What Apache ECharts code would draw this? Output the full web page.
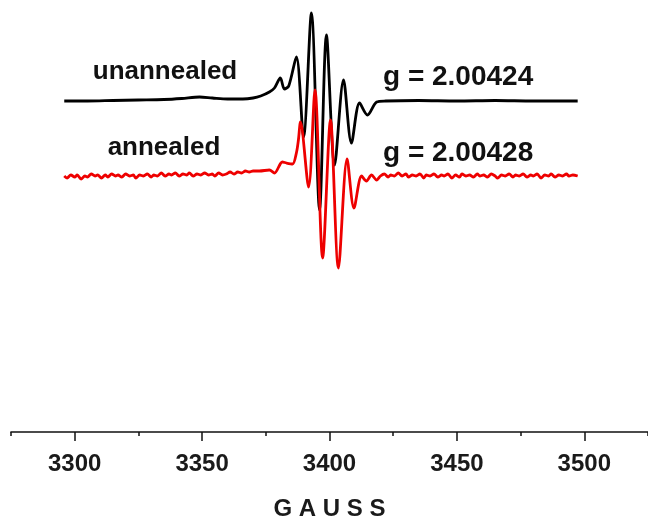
<!DOCTYPE html>
<html>
<head>
<meta charset="utf-8">
<script src="https://cdn.jsdelivr.net/npm/echarts@6/dist/echarts.min.js"></script>
<style>
  html, body { margin: 0; padding: 0; background: #fff; }
  #chart { width: 648px; height: 519px; }
</style>
</head>
<body>
<div id="chart"></div>
<script>
// field axis (gauss)
var fieldMin = 3275;
var fieldMax = 3525;
var majorTicks = [3300, 3350, 3400, 3450, 3500];
var minorTicks = [3275, 3325, 3375, 3425, 3475, 3525];

// derivative signal, [gauss, amplitude]
var unannealed = [
    [3295.9, 0], [3305, 0], [3315, 0.5], [3325, 1], [3335, 1.5], [3342, 2.5],
    [3349, 4], [3354, 3], [3360, 2], [3366, 2], [3370, 3], [3373, 5],
    [3376.4, 9], [3378.4, 13], [3380.7, 23], [3382.3, 12], [3384.0, 15],
    [3387.0, 44], [3389.8, -36], [3392.9, 88], [3396.1, -109], [3398.8, 66],
    [3402.0, -64], [3405.5, 21], [3408.6, -42], [3411.8, -2], [3414.9, -14],
    [3418.5, -1], [3422, 0], [3435, 0.5], [3450, 0], [3465, 0.5], [3480, 0],
    [3497.4, 0]
];

var annealed = [
    [3295.9, 1], [3297, -1], [3298.5, 2], [3300, 0], [3301, 2], [3302.5, -2],
    [3304, 1], [3305, 0], [3306.5, 3], [3308, 1], [3309, 2], [3310.5, -1],
    [3312, 2], [3313, 0], [3314.5, 3], [3316, 1], [3317, 2], [3318.5, 0],
    [3320, 3], [3321.5, 1], [3323, 2], [3324, -1], [3325.5, 2], [3327, 1],
    [3328.5, 3], [3330, 0], [3331, 2], [3332.5, 1], [3334, 4], [3335.5, 1],
    [3337, 3], [3338, 2], [3339.5, 4], [3341, 1], [3342.5, 3], [3344, 2],
    [3345, 4], [3346.5, 1], [3348, 3], [3349.5, 2], [3351, 4], [3352.5, 2],
    [3354, 3], [3355, 1], [3356.5, 4], [3358, 2], [3359.5, 3], [3361, 5],
    [3362.5, 3], [3364, 5], [3365.5, 4], [3367, 6], [3368.5, 5], [3370, 6],
    [3372.5, 6], [3376.4, 7], [3378.4, 4],
    [3381.5, 15], [3383.1, 14], [3385.5, 13], [3387.0, 24], [3387.8, 37],
    [3388.6, 55], [3391.8, -10], [3394.3, 87], [3397.3, -81], [3400.4, 57],
    [3403.5, -91], [3406.9, 18], [3409.6, -31], [3412.6, 1], [3414.5, -4],
    [3416.5, 2], [3418.5, -3], [3420, 1], [3421.5, 3], [3423, 0], [3424, 2],
    [3425.5, 1], [3427, 4], [3428.5, 1], [3430, 3], [3431, 0], [3432.5, 2],
    [3434, 1], [3435.5, 3], [3437, -1], [3438, 2], [3439.5, 1], [3441, 3],
    [3442.5, 0], [3444, 2], [3445, 1], [3446.5, 3], [3448, -1], [3449.5, 2],
    [3451, 0], [3452, 3], [3453.5, 1], [3455, 2], [3456.5, 0], [3458, 3],
    [3459, 1], [3460.5, 2], [3462, 0], [3463.5, 3], [3465, 1], [3466, -1],
    [3467.5, 2], [3469, 1], [3470.5, 3], [3472, 0], [3473, 2], [3474.5, 1],
    [3476, 3], [3477.5, 0], [3479, 2], [3480, 1], [3481.5, 3], [3483, -1],
    [3484.5, 2], [3486, 1], [3487, 3], [3488.5, 0], [3490, 2], [3491.5, 1],
    [3493, 3], [3494, 1], [3495.5, 2], [3497.4, 1]
];

// vertical stacking of the two traces
var unannealedOffset = 331;
var annealedOffset = 255;

function shift(data, off) {
    return data.map(function (p) { return [p[0], p[1] + off]; });
}

var font = '"Liberation Sans", Arial, sans-serif';

var chart = echarts.init(document.getElementById('chart'));
var option = {
    animation: false,
    backgroundColor: '#fff',
    grid: { left: 11, right: 0, top: 0, bottom: 87, outerBoundsMode: 'none' },
    xAxis: [
        {
            type: 'value',
            min: fieldMin,
            max: fieldMax,
            name: 'G A U S S',
            nameLocation: 'middle',
            nameGap: 65,
            nameTextStyle: { fontFamily: font, fontSize: 24, fontWeight: 'bold', color: '#1a1a1a' },
            splitLine: { show: false },
            axisLine: { lineStyle: { color: '#111', width: 1.6 } },
            axisTick: { customValues: minorTicks, length: 4, lineStyle: { color: '#111', width: 1.5 } },
            axisLabel: {
                customValues: majorTicks,
                margin: 20,
                fontFamily: font,
                fontSize: 24,
                fontWeight: 'bold',
                color: '#1a1a1a',
                formatter: function (v) { return String(v); }
            }
        },
        {
            type: 'value',
            min: fieldMin,
            max: fieldMax,
            position: 'bottom',
            splitLine: { show: false },
            axisLine: { show: false },
            axisTick: { customValues: majorTicks, length: 9, lineStyle: { color: '#111', width: 1.5 } },
            axisLabel: { show: false }
        }
    ],
    yAxis: {
        type: 'value',
        min: 0,
        max: 432,
        show: false
    },
    series: [
        {
            name: 'unannealed',
            type: 'line',
            data: shift(unannealed, unannealedOffset),
            showSymbol: false,
            smooth: 0.3,
            lineStyle: { color: '#000', width: 2.8 }
        },
        {
            name: 'annealed',
            type: 'line',
            data: shift(annealed, annealedOffset),
            showSymbol: false,
            smooth: 0.3,
            lineStyle: { color: '#ee0000', width: 2.8 }
        }
    ],
    graphic: [
        { type: 'text', x: 165, y: 72, style: { text: 'unannealed', font: 'bold 26px ' + font, fill: '#111', align: 'center', verticalAlign: 'middle' } },
        { type: 'text', x: 164, y: 148, style: { text: 'annealed', font: 'bold 26px ' + font, fill: '#111', align: 'center', verticalAlign: 'middle' } },
        { type: 'text', x: 383, y: 77, style: { text: 'g = 2.00424', font: 'bold 28px ' + font, fill: '#111', align: 'left', verticalAlign: 'middle' } },
        { type: 'text', x: 383, y: 153, style: { text: 'g = 2.00428', font: 'bold 28px ' + font, fill: '#111', align: 'left', verticalAlign: 'middle' } }
    ]
};
chart.setOption(option);
</script>
</body>
</html>
